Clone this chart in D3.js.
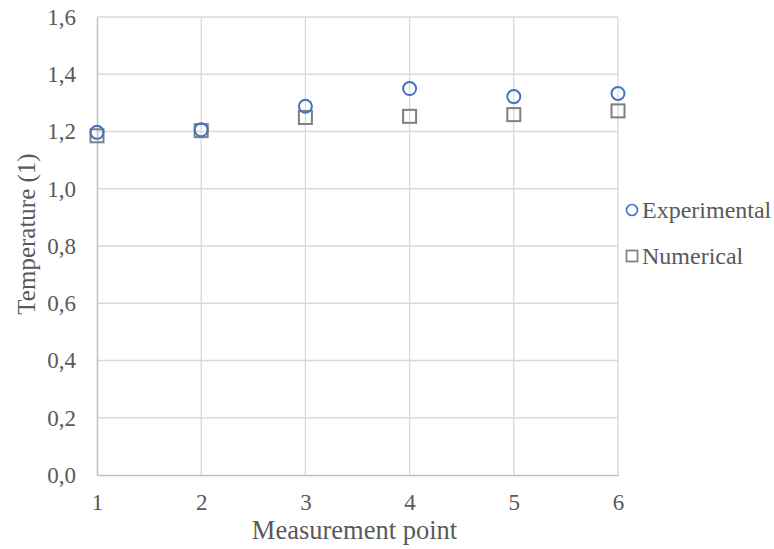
<!DOCTYPE html>
<html>
<head>
<meta charset="utf-8">
<script src="https://cdn.jsdelivr.net/npm/d3@7"></script>
<style>
  body { margin: 0; background: #fff; }
  text { font-family: "Liberation Serif", "Times New Roman", serif; fill: #595959; }
</style>
</head>
<body>
<svg id="chart" width="774" height="549"></svg>
<script>
// data
var points = [1, 2, 3, 4, 5, 6];
var experimental = [1.197, 1.206, 1.288, 1.350, 1.322, 1.333];
var numerical = [1.185, 1.203, 1.249, 1.253, 1.259, 1.272];
var yTicks = [0, 0.2, 0.4, 0.6, 0.8, 1.0, 1.2, 1.4, 1.6];
var seriesNames = ["Experimental", "Numerical"];

var svg = d3.select("#chart");
var margin = {left: 97, right: 156, top: 17, bottom: 74};
var W = 774, H = 549;

var x = d3.scaleLinear().domain([1, 6]).range([margin.left, W - margin.right]);
var y = d3.scaleLinear().domain([0, 1.6]).range([H - margin.bottom, margin.top]);
var fmt = d => d3.format(".1f")(d).replace(".", ",");

// gridlines
svg.append("g").selectAll("line.hgrid")
    .data(yTicks.slice(1))
    .enter().append("line")
    .attr("class", "hgrid")
    .attr("x1", x(1)).attr("x2", x(6))
    .attr("y1", d => y(d)).attr("y2", d => y(d))
    .attr("stroke", "#d9d9d9").attr("stroke-width", 1.3);

svg.append("g").selectAll("line.vgrid")
    .data(points.slice(1))
    .enter().append("line")
    .attr("class", "vgrid")
    .attr("x1", d => x(d)).attr("x2", d => x(d))
    .attr("y1", y(0)).attr("y2", y(1.6))
    .attr("stroke", "#d9d9d9").attr("stroke-width", 1.3);

// axes
var xAxis = svg.append("g")
    .attr("transform", "translate(0," + y(0) + ")")
    .call(d3.axisBottom(x).tickValues(points).tickSize(0).tickPadding(19).tickFormat(d3.format("d")));
var yAxis = svg.append("g")
    .attr("transform", "translate(" + x(1) + ",0)")
    .call(d3.axisLeft(y).tickValues(yTicks).tickSize(0).tickPadding(21).tickFormat(fmt));
[xAxis, yAxis].forEach(a => {
    a.select(".domain").attr("stroke", "#bfbfbf").attr("stroke-width", 1.5);
    a.selectAll("text").style("font-size", "23px").attr("fill", "#595959")
        .style("font-family", "'Liberation Serif', 'Times New Roman', serif");
});

// axis titles
svg.append("text")
    .attr("x", (x(1) + x(6)) / 2 - 3).attr("y", 539)
    .attr("text-anchor", "middle").style("font-size", "26.5px")
    .text("Measurement point");
svg.append("text")
    .attr("transform", "translate(35,234) rotate(-90)")
    .attr("text-anchor", "middle").style("font-size", "25px")
    .text("Temperature (1)");

// markers
svg.append("g").selectAll("rect.num")
    .data(numerical)
    .enter().append("rect")
    .attr("class", "num")
    .attr("x", (d, i) => x(points[i]) - 6.5)
    .attr("y", d => y(d) - 6.5)
    .attr("width", 13).attr("height", 13)
    .attr("fill", "none").attr("stroke", "#7f7f7f").attr("stroke-width", 2);

svg.append("g").selectAll("circle.exp")
    .data(experimental)
    .enter().append("circle")
    .attr("class", "exp")
    .attr("cx", (d, i) => x(points[i]))
    .attr("cy", d => y(d))
    .attr("r", 6.5)
    .attr("fill", "none").attr("stroke", "#4472c4").attr("stroke-width", 2);

// legend
var legend = svg.append("g").attr("transform", "translate(632,210)");
legend.append("circle").attr("cx", 0).attr("cy", 0).attr("r", 5.5)
    .attr("fill", "none").attr("stroke", "#4472c4").attr("stroke-width", 1.7);
legend.append("rect").attr("x", -5.5).attr("y", 40.5).attr("width", 11).attr("height", 11)
    .attr("fill", "none").attr("stroke", "#7f7f7f").attr("stroke-width", 1.7);
legend.selectAll("text")
    .data(seriesNames)
    .enter().append("text")
    .attr("x", 10).attr("y", (d, i) => 8 + i * 46)
    .style("font-size", "24px")
    .text(d => d);
</script>
</body>
</html>
